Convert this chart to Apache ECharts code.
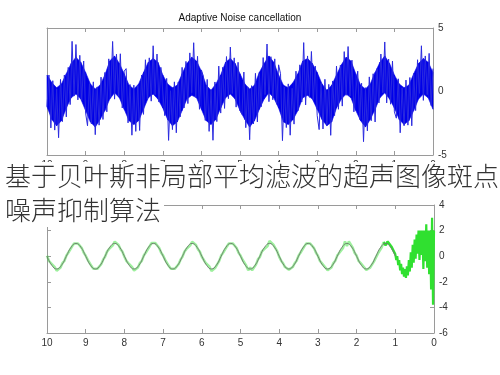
<!DOCTYPE html>
<html><head><meta charset="utf-8">
<script src="https://cdn.jsdelivr.net/npm/echarts@6/dist/echarts.min.js"></script>
<style>html,body{margin:0;padding:0;background:#fff}#c{width:500px;height:375px}</style>
</head><body><div id="c"></div>
<script>
// ---- data ----
const titleText = 'Adaptive Noise cancellation';
const captionLines = ['基于贝叶斯非局部平均滤波的超声图像斑点', '噪声抑制算法'];

// top panel: noisy input signal, sampled every 0.05 from 0 to 10
const inputStep = 0.05;
const noisyInput = [
 1.8,-1.1,3.0,-0.25,2.8,-0.7,3.6,-0.15,2.5,-1.5,1.4,-2.7,1.1,-2.65,0.9,-2.7,0.3,-3.25,1.0,-2.1,
 -1.6,2.4,-1.0,2.55,-0.9,3.9,-0.1,2.95,-0.9,1.8,-2.4,1.4,-2.3,1.15,-3.1,0.3,-3.95,0.65,-2.2,1.6,
 1.5,-1.6,2.47,-0.35,3.54,-0.3,3.14,-1.15,2.07,-1.4,2.0,-1.9,0.83,-3.45,0.56,-2.6,0.96,-2.95,0.63,-3.0,
 -1.9,2.0,-0.63,3.15,-0.46,2.8,-1.06,3.85,-0.83,2.1,-1.5,1.6,-2.57,0.25,-3.44,0.6,-2.84,0.35,-3.87,1.4,
 2.1,-1.0,2.57,-0.65,2.74,-0.8,3.74,-0.25,2.67,-1.2,1.4,-2.4,1.43,-2.55,0.46,-3.8,0.36,-2.85,1.53,-1.8,
 -1.5,2.3,-1.23,2.65,-0.16,3.5,-0.56,2.75,-1.33,1.9,-1.7,2.0,-2.37,0.75,-3.84,0.1,-3.14,0.95,-2.27,1.2,
 1.7,-1.4,2.77,-0.45,3.84,-0.1,3.04,-0.95,2.37,-1.3,1.9,-2.0,0.73,-3.25,0.76,-3.0,0.06,-3.85,1.03,-1.9,
 -1.8,1.9,-0.83,2.95,-0.26,3.6,-0.76,2.65,-0.63,2.5,-1.8,1.3,-3.07,0.45,-3.14,0.5,-3.44,0.55,-2.47,1.8,
 1.6,-1.3,2.97,-0.35,2.94,-0.6,3.94,-0.45,2.57,-1.6,1.5,-2.2,1.13,-2.65,0.36,-3.4,0.76,-2.55,0.63,-2.7,
 -1.7,2.4,-0.73,2.85,-0.66,3.7,-0.36,3.95,-1.03,1.9,-2.0,1.3,-2.37,0.95,-3.64,0.2,-3.04,0.85,-2.87,1.3,
 -1.2
];
// dense core of the noisy band (upper / lower edge), every 0.125 from 0 to 10
const coreStep = 0.125;
const coreUpper = [
 1.5,2.3,2.6,2.2,1.4,0.5,0.3,0.6,
 1.3,2.2,2.8,2.3,1.5,0.6,0.2,0.5,
 1.4,2.4,2.7,2.1,1.3,0.5,0.1,0.6,
 1.5,2.2,2.6,2.4,1.4,0.7,0.3,0.5,
 1.3,2.3,2.8,2.2,1.5,0.5,0.2,0.6,
 1.4,2.2,2.6,2.3,1.3,0.6,0.1,0.5,
 1.6,2.4,2.7,2.2,1.4,0.5,0.3,0.6,
 1.3,2.3,2.6,2.3,1.5,0.6,0.2,0.5,
 1.4,2.2,2.8,2.4,1.3,0.5,0.2,0.6,
 1.5,2.3,2.7,2.2,1.4,0.6,0.3,0.7,
 1.3
];
const coreLower = [
 -1.4,-0.5,-0.2,-0.6,-1.5,-2.3,-2.6,-2.2,
 -1.3,-0.6,-0.1,-0.5,-1.4,-2.2,-2.8,-2.3,
 -1.5,-0.5,-0.2,-0.6,-1.3,-2.4,-2.7,-2.2,
 -1.4,-0.6,-0.3,-0.5,-1.5,-2.2,-2.6,-2.4,
 -1.3,-0.5,-0.1,-0.6,-1.4,-2.3,-2.8,-2.2,
 -1.5,-0.6,-0.2,-0.5,-1.3,-2.2,-2.6,-2.3,
 -1.4,-0.5,-0.3,-0.6,-1.5,-2.4,-2.7,-2.2,
 -1.3,-0.6,-0.2,-0.5,-1.4,-2.3,-2.6,-2.3,
 -1.4,-0.5,-0.1,-0.6,-1.5,-2.2,-2.8,-2.4,
 -1.5,-0.6,-0.2,-0.5,-1.3,-2.3,-2.7,-2.2,
 -1.2
];

// bottom panel: filter output, early part (0 .. 0.975, step 0.025)
const earlyStep = 0.025;
const outputEarly = [
 2.0,-3.8,3.0,-2.6,2.0,-1.4,2.0,-0.9,2.5,-0.4,2.0,-1.0,2.0,0.1,2.0,-0.3,2.0,0.2,1.7,-0.2,
 1.3,-0.5,0.9,-0.9,0.3,-1.2,-0.3,-1.5,-0.8,-1.7,-1.0,-1.6,-0.9,-1.4,-0.6,-1.1,-0.3,-0.7,0.0,-0.3
];
// later part (1 .. 10, step 0.05)
const lateStart = 1, lateStep = 0.05;
const outputLate = [
 0.15,0.1,0.75,0.6,1.15,0.85,1.1,0.7,0.7,0.2,0.1,-0.4,-0.5,-0.9,-0.88,-1.08,-0.88,-0.88,-0.52,-0.36,
 0.05,0.25,0.66,0.7,1.15,0.8,1.15,0.65,0.66,0.25,0.05,-0.36,-0.54,-0.88,-0.9,-1.1,-0.9,-0.86,-0.54,-0.36,
 0.04,0.27,0.63,0.77,0.99,0.96,0.99,0.77,0.63,0.27,0.04,-0.35,-0.55,-0.85,-0.91,-1.05,-0.9,-0.85,-0.55,-0.35,
 -0.05,0.38,0.52,0.9,0.8,1.2,0.8,0.9,0.52,0.36,-0.06,-0.25,-0.66,-0.72,-1.1,-0.88,-1.1,-0.74,-0.64,-0.26,
 0.05,0.26,0.64,0.76,1.0,0.95,1.0,0.76,0.64,0.26,0.05,-0.37,-0.52,-0.9,-0.82,-1.15,-0.82,-0.9,-0.52,-0.37,
 -0.04,0.35,0.55,0.87,0.83,1.13,0.84,0.86,0.55,0.35,-0.05,-0.27,-0.63,-0.77,-0.99,-0.95,-0.99,-0.77,-0.63,-0.27,
 0.05,0.27,0.64,0.76,1.03,0.92,1.03,0.76,0.64,0.27,0.05,-0.36,-0.53,-0.88,-0.85,-1.12,-0.85,-0.88,-0.53,-0.36,
 -0.04,0.35,0.55,0.88,0.82,1.14,0.84,0.87,0.55,0.35,-0.04,-0.27,-0.63,-0.77,-0.99,-0.95,-0.99,-0.77,-0.63,-0.27,
 0.04,0.27,0.63,0.77,0.99,0.96,0.99,0.77,0.63,0.27,0.04,-0.36,-0.53,-0.89,-0.84,-1.13,-0.85,-0.88,-0.53,-0.36,
 0.03
];
// clean reference sine (gray), from 1 to 10, step 0.125
const cleanStart = 1, cleanStep = 0.125;
const cleanSignal = [
 0,0.71,1,0.71,0,-0.71,-1,-0.71,
 0,0.71,1,0.71,0,-0.71,-1,-0.71,
 0,0.71,1,0.71,0,-0.71,-1,-0.71,
 0,0.71,1,0.71,0,-0.71,-1,-0.71,
 0,0.71,1,0.71,0,-0.71,-1,-0.71,
 0,0.71,1,0.71,0,-0.71,-1,-0.71,
 0,0.71,1,0.71,0,-0.71,-1,-0.71,
 0,0.71,1,0.71,0,-0.71,-1,-0.71,
 0,0.71,1,0.71,0,-0.71,-1,-0.71,
 0
];
const topY = {min:-5, max:5, interval:5};
const botY = {min:-6, max:4, interval:2};
const xRange = {min:0, max:10, interval:1};

// ---- build ----
const pairs = (arr, start, step) => arr.map((v,i)=>[+(start+i*step).toFixed(4), v]);
const frame = '#9a9a9a';
function xAx(g, pos, labels){
  return {gridIndex:g, type:'value', min:xRange.min, max:xRange.max, interval:xRange.interval,
    inverse:true, position:pos,
    axisLine:{show:true, onZero:false, lineStyle:{color:frame, width:1}},
    axisTick:{show:true, inside:true, length:4, lineStyle:{color:frame}},
    axisLabel:{show:labels, color:'#333', fontSize:10, margin:5, fontFamily:'Liberation Sans'},
    splitLine:{show:false}};
}
function yAx(g, pos, labels, r){
  return {gridIndex:g, type:'value', min:r.min, max:r.max, interval:r.interval, position:pos,
    axisLine:{show:true, onZero:false, lineStyle:{color:frame, width:1}},
    axisTick:{show:true, inside:true, length:4, lineStyle:{color:frame}},
    axisLabel:{show:labels, color:'#333', fontSize:10, margin:5, fontFamily:'Liberation Sans'},
    splitLine:{show:false}};
}
const coreData = coreUpper.map((u,i)=>[+(i*coreStep).toFixed(4), u, coreLower[i]]);
const earlyPairs = pairs(outputEarly,0,earlyStep);
const latePairs = pairs(outputLate,lateStart,lateStep);
const chart = echarts.init(document.getElementById('c'), null, {renderer:'canvas'});
chart.setOption({
  animation:false,
  backgroundColor:'#fff',
  grid:[
    {left:47, top:28, width:386, height:127},
    {left:47, top:205, width:387, height:128}
  ],
  xAxis:[xAx(0,'bottom',true), xAx(0,'top',false), xAx(1,'bottom',true), xAx(1,'top',false)],
  yAxis:[yAx(0,'right',true,topY), yAx(0,'left',false,topY), yAx(1,'right',true,botY), yAx(1,'left',false,botY)],
  series:[
    {type:'custom', xAxisIndex:0, yAxisIndex:0, data:coreData, z:1,
     encode:{x:0, y:[1,2]},
     renderItem:function(params, api){
       const i = params.dataIndex;
       if (i >= coreData.length-1) return null;
       const a = coreData[i], b = coreData[i+1];
       const pts = [api.coord([a[0],a[1]]), api.coord([b[0],b[1]]), api.coord([b[0],b[2]]), api.coord([a[0],a[2]])];
       return {type:'polygon', shape:{points:pts}, style:{fill:'#0000e8', stroke:'#0000e8', lineWidth:0.6}};
     }},
    {type:'line', xAxisIndex:0, yAxisIndex:0, data:pairs(noisyInput,0,inputStep), showSymbol:false,
     lineStyle:{color:'#2a2ae0', width:1}, sampling:null, z:2},
    {type:'line', xAxisIndex:2, yAxisIndex:2, data:latePairs,
     showSymbol:false, lineStyle:{color:'rgba(60,225,60,0.5)', width:2.5}, z:2},
    {type:'line', xAxisIndex:2, yAxisIndex:2, data:earlyPairs.concat(latePairs.slice(0,7)),
     showSymbol:false, lineStyle:{color:'#30e030', width:2.2}, z:2},
    {type:'line', xAxisIndex:2, yAxisIndex:2, data:pairs(cleanSignal,cleanStart,cleanStep), smooth:0.5,
     showSymbol:false, lineStyle:{color:'rgba(110,120,110,0.9)', width:1}, z:3}
  ],
  graphic:[
    {type:'text', x:240, y:18, z:50, style:{text:titleText, font:'10px "Liberation Sans"', fill:'#111', align:'center', verticalAlign:'middle'}},
    {type:'text', x:3, y:162, z:100, style:{text:captionLines[0], font:'300 26px "Noto Sans CJK SC"', fill:'#333',
      backgroundColor:'#fff', padding:[1,4,2,2], align:'left', verticalAlign:'top'}},
    {type:'text', x:3, y:197, z:100, style:{text:captionLines[1], font:'300 26px "Noto Sans CJK SC"', fill:'#333',
      backgroundColor:'#fff', padding:[0,3,4,2], align:'left', verticalAlign:'top'}}
  ]
});
</script></body></html>
